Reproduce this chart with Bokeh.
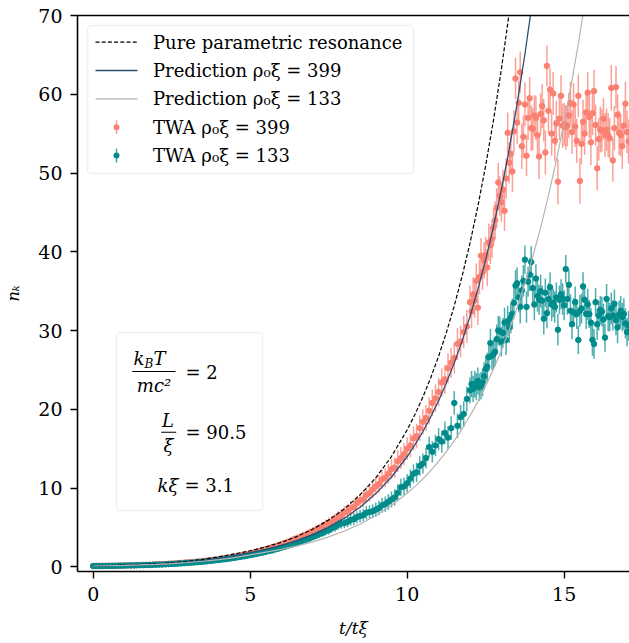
from bokeh.plotting import figure
from bokeh.models import (ColumnDataSource, BoxAnnotation, Label, LinearAxis, FixedTicker)
from bokeh.embed import file_html
from bokeh.resources import INLINE

# ---------------- data ----------------
t_twa = [0.0, 0.1, 0.2, 0.3, 0.4, 0.5, 0.6, 0.7, 0.8, 0.9,
         1.0, 1.1, 1.2, 1.3, 1.4, 1.5, 1.6, 1.7, 1.8, 1.9,
         2.0, 2.1, 2.2, 2.3, 2.4, 2.5, 2.6, 2.7, 2.8, 2.9,
         3.0, 3.1, 3.2, 3.3, 3.4, 3.5, 3.6, 3.7, 3.8, 3.9,
         4.0, 4.1, 4.2, 4.3, 4.4, 4.5, 4.6, 4.7, 4.8, 4.9,
         5.0, 5.1, 5.2, 5.3, 5.4, 5.5, 5.6, 5.7, 5.8, 5.9,
         6.0, 6.1, 6.2, 6.3, 6.4, 6.5, 6.6, 6.7, 6.8, 6.9,
         7.0, 7.1, 7.2, 7.3, 7.4, 7.5, 7.6, 7.7, 7.8, 7.9,
         8.0, 8.1, 8.2, 8.3, 8.4, 8.5, 8.6, 8.7, 8.8, 8.9,
         9.0, 9.1, 9.2, 9.3, 9.4, 9.5, 9.6, 9.7, 9.8, 9.9,
         10.0, 10.1, 10.2, 10.3, 10.4, 10.5, 10.6, 10.7, 10.8, 10.9,
         11.0, 11.1, 11.2, 11.3, 11.4, 11.5, 11.6, 11.7, 11.8, 11.9,
         12.0, 12.05, 12.1, 12.15, 12.2, 12.25, 12.3, 12.35, 12.4, 12.45,
         12.5, 12.55, 12.6, 12.65, 12.7, 12.75, 12.8, 12.85, 12.9, 12.95,
         13.0, 13.05, 13.1, 13.15, 13.2, 13.25, 13.3, 13.35, 13.4, 13.45,
         13.5, 13.55, 13.6, 13.65, 13.7, 13.75, 13.8, 13.85, 13.9, 13.95,
         14.0, 14.05, 14.1, 14.15, 14.2, 14.25, 14.3, 14.35, 14.4, 14.45,
         14.5, 14.55, 14.6, 14.65, 14.7, 14.75, 14.8, 14.85, 14.9, 14.95,
         15.0, 15.05, 15.1, 15.15, 15.2, 15.25, 15.3, 15.35, 15.4, 15.45,
         15.5, 15.55, 15.6, 15.65, 15.7, 15.75, 15.8, 15.85, 15.9, 15.95,
         16.0, 16.05, 16.1, 16.15, 16.2, 16.25, 16.3, 16.35, 16.4, 16.45,
         16.5, 16.55, 16.6, 16.65, 16.7, 16.75, 16.8, 16.85, 16.9, 16.95,
         17.0, 17.05]

n_twa399 = [0.10, 0.11, 0.11, 0.12, 0.12, 0.13, 0.14, 0.14, 0.15, 0.16,
            0.17, 0.18, 0.19, 0.19, 0.21, 0.23, 0.23, 0.25, 0.26, 0.28,
            0.31, 0.32, 0.33, 0.36, 0.38, 0.42, 0.43, 0.47, 0.49, 0.53,
            0.56, 0.58, 0.62, 0.66, 0.70, 0.74, 0.78, 0.83, 0.88, 0.93,
            0.98, 1.05, 1.10, 1.17, 1.22, 1.30, 1.38, 1.46, 1.52, 1.62,
            1.70, 1.82, 1.90, 2.02, 2.10, 2.25, 2.33, 2.50, 2.62, 2.74,
            2.90, 3.02, 3.18, 3.30, 3.52, 3.65, 3.80, 4.00, 4.12, 4.35,
            4.50, 4.72, 4.88, 5.10, 5.35, 5.60, 5.75, 6.05, 6.30, 6.55,
            6.90, 7.05, 7.45, 7.60, 8.10, 8.40, 8.55, 9.10, 9.35, 9.80,
            10.2, 10.5, 11.1, 11.3, 11.8, 12.4, 12.6, 13.4, 13.8, 14.3,
            15.0, 15.4, 16.3, 16.6, 17.6, 18.4, 18.9, 19.8, 20.8, 21.4,
            22.2, 23.4, 23.8, 25.2, 25.9, 26.5, 28.3, 28.6, 29.8, 30.5,
            33.6, 32.4, 34.6, 33.8, 36.3, 32.9, 36.8, 39.5, 37.4, 38.9,
            39.6, 38.0, 41.2, 40.8, 41.6, 43.1, 44.0, 45.6, 48.8, 47.1,
            46.3, 47.9, 45.2, 49.3, 55.1, 51.3, 52.4, 50.2, 55.3, 62.0,
            56.4, 58.9, 62.8, 53.4, 54.6, 58.7, 52.2, 57.0, 59.5, 55.7,
            55.6, 57.3, 57.0, 54.8, 52.1, 57.5, 58.5, 56.7, 52.6, 63.6,
            57.9, 60.6, 55.0, 60.1, 54.1, 56.3, 48.9, 56.9, 59.8, 56.0,
            56.2, 55.8, 56.0, 57.3, 58.9, 55.2, 58.7, 55.9, 54.1, 59.8,
            49.0, 53.7, 56.5, 55.0, 57.7, 60.2, 57.1, 53.9, 57.6, 60.4,
            56.1, 50.6, 54.3, 55.5, 55.4, 56.9, 54.8, 55.5, 54.8, 54.4,
            60.8, 51.6, 55.7, 60.9, 57.4, 55.1, 54.8, 53.4, 56.0, 58.8,
            55.2, 54.0]

e_twa399 = [0.02, 0.02, 0.02, 0.02, 0.02, 0.02, 0.02, 0.02, 0.02, 0.02,
            0.02, 0.02, 0.03, 0.03, 0.03, 0.03, 0.03, 0.03, 0.03, 0.04,
            0.04, 0.04, 0.04, 0.05, 0.05, 0.05, 0.06, 0.06, 0.06, 0.07,
            0.07, 0.08, 0.08, 0.08, 0.09, 0.10, 0.10, 0.11, 0.11, 0.12,
            0.12, 0.13, 0.14, 0.15, 0.15, 0.16, 0.17, 0.18, 0.19, 0.20,
            0.21, 0.22, 0.23, 0.25, 0.26, 0.27, 0.29, 0.30, 0.32, 0.33,
            0.35, 0.37, 0.38, 0.40, 0.42, 0.44, 0.46, 0.48, 0.50, 0.52,
            0.54, 0.56, 0.59, 0.61, 0.64, 0.66, 0.69, 0.72, 0.75, 0.78,
            0.80, 0.83, 0.86, 0.90, 0.93, 0.96, 1.00, 1.03, 1.07, 1.10,
            1.10, 1.15, 1.20, 1.20, 1.25, 1.30, 1.30, 1.35, 1.40, 1.40,
            1.45, 1.50, 1.50, 1.55, 1.60, 1.60, 1.65, 1.70, 1.70, 1.75,
            1.80, 1.80, 1.85, 1.90, 1.90, 1.95, 2.00, 2.00, 2.05, 2.10,
            2.10, 2.12, 2.15, 2.17, 2.20, 2.20, 2.22, 2.25, 2.27, 2.30,
            2.30, 2.32, 2.35, 2.37, 2.40, 2.40, 2.42, 2.45, 2.47, 2.50,
            2.50, 2.52, 2.55, 2.55, 2.58, 2.60, 2.60, 2.62, 2.65, 2.65,
            2.7, 2.8, 2.6, 2.9, 2.7, 2.8, 2.6, 2.8, 2.7, 2.9,
            2.7, 2.6, 2.8, 2.7, 2.9, 2.6, 2.8, 2.7, 2.8, 2.6,
            2.9, 2.7, 2.8, 2.7, 2.6, 2.8, 2.9, 2.7, 2.6, 2.8,
            2.7, 2.8, 2.6, 2.9, 2.7, 2.8, 2.7, 2.6, 2.8, 2.7,
            2.9, 2.6, 2.8, 2.7, 2.8, 2.6, 2.7, 2.9, 2.8, 2.7,
            2.6, 2.8, 2.7, 2.9, 2.7, 2.6, 2.8, 2.7, 2.8, 2.6,
            2.9, 2.7, 2.8, 2.7, 2.6, 2.8, 2.7, 2.9, 2.6, 2.8,
            2.7, 2.8]

n_twa133 = [0.09, 0.10, 0.10, 0.11, 0.11, 0.12, 0.12, 0.13, 0.14, 0.14,
            0.15, 0.16, 0.17, 0.17, 0.19, 0.20, 0.21, 0.22, 0.23, 0.25,
            0.27, 0.28, 0.29, 0.31, 0.34, 0.36, 0.38, 0.40, 0.43, 0.46,
            0.49, 0.52, 0.54, 0.58, 0.61, 0.65, 0.68, 0.73, 0.77, 0.82,
            0.86, 0.92, 0.96, 1.02, 1.08, 1.13, 1.20, 1.26, 1.33, 1.40,
            1.48, 1.55, 1.63, 1.72, 1.80, 1.90, 2.00, 2.08, 2.20, 2.30,
            2.42, 2.52, 2.66, 2.76, 2.92, 3.05, 3.18, 3.34, 3.48, 3.62,
            3.80, 3.95, 4.15, 4.28, 4.50, 4.65, 4.90, 5.05, 5.32, 5.48,
            5.55, 5.70, 5.95, 6.05, 6.30, 6.45, 6.55, 6.85, 6.95, 7.05,
            7.25, 7.45, 7.80, 7.95, 8.25, 8.55, 8.80, 9.40, 10.1, 10.2,
            10.6, 11.2, 11.8, 12.0, 12.8, 13.1, 13.8, 15.2, 14.6, 15.4,
            16.2, 15.9, 17.0, 16.4, 17.6, 20.8, 17.9, 19.0, 19.4, 21.3,
            22.4, 23.2, 22.6, 23.2, 22.9, 23.6, 22.8, 23.0, 23.4, 24.2,
            25.1, 25.4, 26.6, 28.4, 26.8, 27.0, 27.3, 28.9, 30.0, 29.9,
            28.6, 29.7, 31.0, 28.8, 31.2, 30.4, 31.6, 32.1, 33.5, 35.7,
            36.0, 34.2, 33.0, 35.1, 36.3, 39.0, 33.0, 36.2, 37.1, 38.7,
            35.4, 33.3, 36.6, 34.4, 33.9, 35.0, 33.8, 31.5, 34.8, 32.2,
            34.0, 35.5, 33.3, 33.5, 33.0, 34.2, 30.1, 33.9, 34.6, 34.0,
            33.2, 37.8, 34.0, 35.8, 32.5, 30.8, 32.3, 33.6, 32.1, 28.8,
            32.5, 32.8, 35.6, 33.9, 32.1, 33.3, 32.1, 31.0, 28.8, 28.3,
            33.6, 30.8, 31.9, 32.6, 32.4, 31.4, 29.1, 34.0, 31.8, 31.7,
            32.8, 31.9, 33.4, 31.3, 30.4, 32.0, 32.5, 31.7, 32.1, 30.9,
            29.8, 30.6]

e_twa133 = [0.02, 0.02, 0.02, 0.02, 0.02, 0.02, 0.02, 0.02, 0.02, 0.02,
            0.02, 0.02, 0.02, 0.03, 0.03, 0.03, 0.03, 0.03, 0.03, 0.03,
            0.04, 0.04, 0.04, 0.04, 0.05, 0.05, 0.05, 0.06, 0.06, 0.06,
            0.07, 0.07, 0.07, 0.08, 0.08, 0.09, 0.09, 0.10, 0.10, 0.11,
            0.11, 0.12, 0.12, 0.13, 0.14, 0.14, 0.15, 0.16, 0.17, 0.17,
            0.18, 0.19, 0.20, 0.21, 0.22, 0.23, 0.24, 0.25, 0.27, 0.28,
            0.29, 0.30, 0.32, 0.33, 0.35, 0.36, 0.38, 0.40, 0.41, 0.43,
            0.45, 0.47, 0.49, 0.51, 0.53, 0.55, 0.58, 0.60, 0.62, 0.65,
            0.67, 0.69, 0.72, 0.74, 0.76, 0.79, 0.81, 0.84, 0.86, 0.89,
            0.90, 0.92, 0.95, 0.97, 1.00, 1.02, 1.05, 1.07, 1.10, 1.12,
            1.15, 1.17, 1.20, 1.22, 1.25, 1.27, 1.30, 1.32, 1.35, 1.37,
            1.40, 1.40, 1.45, 1.45, 1.50, 1.50, 1.55, 1.55, 1.60, 1.60,
            1.65, 1.66, 1.67, 1.68, 1.70, 1.71, 1.72, 1.73, 1.75, 1.76,
            1.77, 1.78, 1.80, 1.81, 1.82, 1.83, 1.85, 1.86, 1.87, 1.88,
            1.90, 1.90, 1.91, 1.92, 1.93, 1.94, 1.95, 1.95, 1.96, 1.97,
            2.0, 1.9, 2.1, 1.9, 2.0, 1.8, 2.0, 1.9, 2.1, 2.0,
            1.9, 2.0, 1.8, 2.0, 1.9, 2.1, 1.9, 2.0, 1.8, 1.9,
            2.0, 1.9, 2.1, 1.8, 2.0, 1.9, 2.0, 1.8, 1.9, 2.0,
            1.9, 1.8, 2.0, 1.9, 2.1, 1.9, 1.8, 2.0, 1.9, 1.8,
            2.0, 1.9, 1.8, 2.0, 1.9, 2.0, 1.8, 1.9, 2.0, 1.9,
            1.8, 2.0, 1.9, 1.8, 1.9, 2.0, 1.8, 1.9, 1.9, 1.8,
            2.0, 1.9, 1.8, 1.9, 2.0, 1.8, 1.9, 1.8, 2.0, 1.9,
            1.8, 1.9]

# pure parametric resonance (dashed)
t_res = [0.0, 0.5, 1.0, 1.5, 2.0, 2.5, 3.0, 3.5, 4.0, 4.5,
         5.0, 5.5, 6.0, 6.5, 7.0, 7.5, 8.0, 8.5, 9.0, 9.5,
         10.0, 10.25, 10.5, 10.75, 11.0, 11.25, 11.5, 11.75, 12.0, 12.25,
         12.5, 12.75, 13.0, 13.25, 13.5]
n_res = [0.10, 0.15, 0.21, 0.29, 0.39, 0.52, 0.70, 0.95, 1.27, 1.63,
         2.03, 2.52, 3.12, 3.86, 4.79, 5.94, 7.36, 9.13, 11.3, 14.0,
         17.39, 19.36, 21.56, 24.01, 26.73, 29.77, 33.15, 36.91, 41.10, 45.76,
         50.96, 56.74, 63.18, 70.35, 78.34]

# prediction rho0 xi = 399
t_p399 = [0.0, 0.5, 1.0, 1.5, 2.0, 2.5, 3.0, 3.5, 4.0, 4.5,
          5.0, 5.5, 6.0, 6.5, 7.0, 7.5, 8.0, 8.5, 9.0, 9.5,
          10.0, 10.25, 10.5, 10.75, 11.0, 11.25, 11.5, 11.75, 12.0, 12.25,
          12.5, 12.75, 13.0, 13.25, 13.5, 13.75, 14.0]
n_p399 = [0.10, 0.14, 0.19, 0.26, 0.35, 0.46, 0.61, 0.81, 1.07, 1.40,
          1.80, 2.21, 2.72, 3.33, 4.09, 5.02, 6.17, 7.57, 9.29, 11.40,
          14.00, 15.51, 17.18, 19.04, 21.09, 23.37, 25.89, 28.68, 31.78, 35.21,
          39.00, 43.21, 47.88, 53.04, 58.77, 65.11, 72.13]

# prediction rho0 xi = 133
t_p133 = [0.0, 0.5, 1.0, 1.5, 2.0, 2.5, 3.0, 3.5, 4.0, 4.5,
          5.0, 5.5, 6.0, 6.5, 7.0, 7.5, 8.0, 8.5, 9.0, 9.5,
          10.0, 10.25, 10.5, 10.75, 11.0, 11.25, 11.5, 11.75, 12.0, 12.25,
          12.5, 12.75, 13.0, 13.25, 13.5, 13.75, 14.0, 14.25, 14.5, 14.75,
          15.0, 15.25, 15.5, 15.75]
n_p133 = [0.10, 0.13, 0.17, 0.23, 0.31, 0.41, 0.54, 0.70, 0.90, 1.17,
          1.50, 1.85, 2.21, 2.65, 3.17, 3.79, 4.54, 5.44, 6.51, 7.80,
          9.33, 10.21, 11.17, 12.22, 13.37, 14.63, 16.01, 17.52, 19.17, 20.97,
          22.95, 25.11, 27.47, 30.06, 32.89, 35.99, 39.38, 43.09, 47.15, 51.59,
          56.45, 61.77, 67.59, 73.95]

x_ticks = [0, 5, 10, 15]
y_ticks = [0, 10, 20, 30, 40, 50, 60, 70]

legend_labels = ["Pure parametric resonance",
                 "Prediction \u03c1\u2080\u03be = 399",
                 "Prediction \u03c1\u2080\u03be = 133",
                 "TWA \u03c1\u2080\u03be = 399",
                 "TWA \u03c1\u2080\u03be = 133"]

# ---------------- styling ----------------
SALMON = "#fa8072"
TEAL = "#008b8b"
NAVY = "#2f4d75"
GRAY = "#b4b4b4"
FONT = "DejaVu Serif"

FR_LEFT, FR_BOTTOM = 77, 571   # frame position on the page (for screen-unit annotations)

p = figure(width=629, height=643, x_range=(-0.5, 17.08), y_range=(-0.6, 70),
           output_backend="svg", toolbar_location=None,
           min_border_left=77, min_border_right=0, min_border_top=15, min_border_bottom=72)
p.outline_line_color = None
p.xgrid.visible = False
p.ygrid.visible = False

xa = p.below[0]
ya = p.left[0]
for ax in (xa, ya):
    ax.axis_line_width = 1.6
    ax.axis_line_color = "black"
    ax.major_tick_line_width = 1.4
    ax.major_tick_out = 7
    ax.major_tick_in = 0
    ax.minor_tick_line_color = None
    ax.major_label_text_font = FONT
    ax.major_label_text_font_size = "19px"
    ax.major_label_text_color = "black"
    ax.axis_label_text_font = FONT
    ax.axis_label_text_font_style = "italic"
    ax.axis_label_text_color = "black"
xa.ticker = FixedTicker(ticks=x_ticks)
ya.ticker = FixedTicker(ticks=y_ticks)
xa.major_label_standoff = 8
ya.major_label_standoff = 8
xa.axis_label = "t/t\u03be"
xa.axis_label_text_font_size = "17px"
xa.axis_label_standoff = 14
ya.axis_label = "n\u2096"
ya.axis_label_text_font_size = "16px"
ya.axis_label_standoff = 12

top_ax = LinearAxis(ticker=FixedTicker(ticks=[]), axis_line_width=1.6, axis_line_color="black",
                    major_tick_line_color=None, minor_tick_line_color=None,
                    major_tick_out=0, major_tick_in=0, major_label_standoff=0,
                    major_label_text_font_size="0px")
p.add_layout(top_ax, "above")

# ---------------- TWA data with error bars ----------------
def make_src(t, n, e):
    return ColumnDataSource(dict(t=t, n=n,
                                 lo=[a - b for a, b in zip(n, e)],
                                 hi=[a + b for a, b in zip(n, e)]))

src399 = make_src(t_twa, n_twa399, e_twa399)
src133 = make_src(t_twa, n_twa133, e_twa133)

p.segment(x0="t", y0="lo", x1="t", y1="hi", source=src399,
          line_color=SALMON, line_alpha=0.75, line_width=1.5)
p.scatter("t", "n", source=src399, size=5.5, marker="circle",
          fill_color=SALMON, line_color=SALMON)
p.segment(x0="t", y0="lo", x1="t", y1="hi", source=src133,
          line_color=TEAL, line_alpha=0.7, line_width=1.5)
p.scatter("t", "n", source=src133, size=5.5, marker="circle",
          fill_color=TEAL, line_color=TEAL)

# ---------------- theory lines ----------------
p.line(t_res, n_res, line_color="black", line_width=1.2, line_dash="4 2")
p.line(t_p399, n_p399, line_color=NAVY, line_width=1.3)
p.line(t_p133, n_p133, line_color=GRAY, line_width=1.2)


# ---------------- helpers for screen-placed annotations ----------------
def sbox(l, r, t, b, **kw):
    """box given in page pixels, converted to frame screen units"""
    return BoxAnnotation(left=l - FR_LEFT, right=r - FR_LEFT,
                         top=FR_BOTTOM - t, bottom=FR_BOTTOM - b,
                         left_units="screen", right_units="screen",
                         top_units="screen", bottom_units="screen", **kw)


def lab(text, px, py, size, italic=False, align="left"):
    p.add_layout(Label(x=px - FR_LEFT, y=FR_BOTTOM - py, x_units="screen", y_units="screen",
                       text=text, text_font=FONT, text_font_size=f"{size}px",
                       text_font_style="italic" if italic else "normal",
                       text_baseline="middle", text_align=align, text_color="black"))


# ---------------- legend (drawn as annotations) ----------------
leg_box = sbox(87, 413, 25, 173, fill_color="white", fill_alpha=1.0,
               line_color="#cccccc", line_width=1.5, border_radius=4)
p.add_layout(leg_box)
rows = [41.7, 70.0, 98.3, 126.7, 155.0]
G0, G1, GX, TX = 95, 137, 116, 152.5
# dashed sample: short black dashes
d = G0
while d < G1:
    p.add_layout(sbox(d, min(d + 4, G1), rows[0] - 0.6, rows[0] + 0.6, fill_color="black",
                      fill_alpha=1.0, line_color=None))
    d += 6.2
# solid samples
p.add_layout(sbox(G0, G1, rows[1] - 0.65, rows[1] + 0.65, fill_color=NAVY, fill_alpha=1.0,
                  line_color=None))
p.add_layout(sbox(G0, G1, rows[2] - 0.6, rows[2] + 0.6, fill_color=GRAY, fill_alpha=1.0,
                  line_color=None))
# error-bar samples
for yc, col in ((rows[3], SALMON), (rows[4], TEAL)):
    p.add_layout(sbox(GX - 0.75, GX + 0.75, yc - 7, yc + 7, fill_color=col, fill_alpha=0.75,
                      line_color=None))
    p.add_layout(sbox(GX - 3, GX + 3, yc - 3, yc + 3, fill_color=col, fill_alpha=1.0,
                      line_color=None, border_radius=3))
for txt, yc in zip(legend_labels, rows):
    lab(txt, TX, yc, 18)

# ---------------- parameter box ----------------
p.add_layout(sbox(116, 262, 332, 510, fill_color="white", fill_alpha=1.0,
                  line_color="#cccccc", line_width=1.5, border_radius=4))

# k_B T / m c^2 = 2
lab("k", 133, 358, 18, True)
lab("B", 144, 363, 12, True)
lab("T", 153, 358, 18, True)
p.add_layout(sbox(131.7, 175, 370.6, 371.6, fill_color="black", fill_alpha=1.0, line_color=None))
lab("mc\u00b2", 153.5, 385, 18, True, "center")
lab("= 2", 185, 371.5, 18)
# L / xi = 90.5
lab("L", 167.5, 419.5, 18, True, "center")
p.add_layout(sbox(160.7, 175.7, 431.2, 432.2, fill_color="black", fill_alpha=1.0, line_color=None))
lab("\u03be", 168, 445, 18, True, "center")
lab("= 90.5", 185, 431.5, 18)
# k xi = 3.1
lab("k\u03be", 157, 485, 18, True)
lab("= 3.1", 184, 485, 18)

open("out.html", "w").write(file_html(p, INLINE))
